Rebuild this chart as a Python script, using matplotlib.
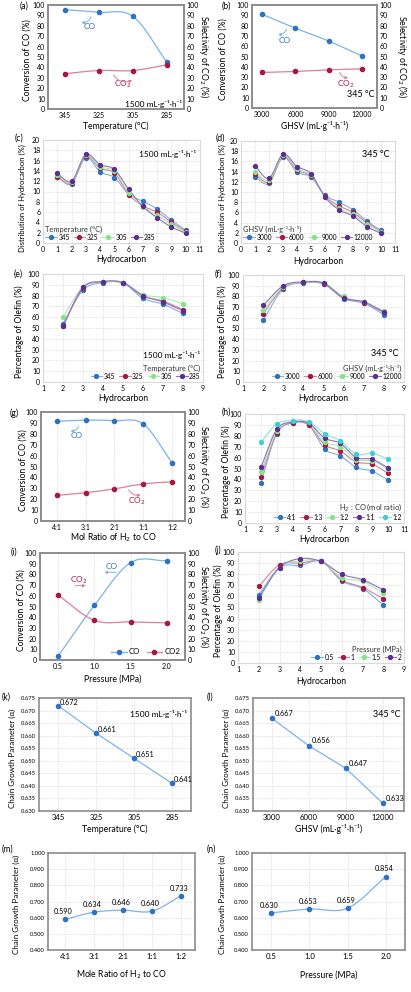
import numpy as np
import matplotlib
matplotlib.use('Agg')
import matplotlib.pyplot as plt
from matplotlib.lines import Line2D

plt.rcParams['font.family'] = ['Lato', 'DejaVu Sans']

# ---------------- data ----------------
temp_labels = ['345', '325', '305', '285']
a_co = [95.5, 93, 89, 45]
a_co2 = [34, 37, 37, 42.5]

ghsv = [3000, 6000, 9000, 12000]
b_co = [91, 77.5, 65, 50.5]
b_co2 = [34.5, 35.5, 37, 38]

carbon_10 = [1, 2, 3, 4, 5, 6, 7, 8, 9, 10]
c_345 = [12.8, 11.5, 16.6, 13.8, 12.7, 9.5, 8.1, 6.6, 4.4, 2.5]
c_325 = [12.9, 11.6, 16.8, 14.5, 13.6, 9.4, 7.2, 6.0, 4.0, 2.3]
c_305 = [13.2, 11.8, 17.0, 14.8, 14.0, 9.8, 7.0, 5.4, 3.6, 2.1]
c_285 = [13.5, 12.0, 17.2, 15.2, 14.3, 10.4, 7.1, 4.9, 3.1, 1.9]

d_3000 = [12.9, 11.7, 16.8, 13.9, 12.9, 9.4, 8.0, 6.5, 4.3, 2.5]
d_6000 = [13.5, 12.0, 17.0, 14.3, 13.1, 9.2, 7.3, 6.0, 4.0, 2.2]
d_9000 = [14.0, 12.3, 17.2, 14.6, 13.3, 9.1, 6.8, 5.6, 3.7, 2.1]
d_12000 = [15.1, 12.7, 17.4, 15.0, 13.6, 9.0, 6.5, 5.3, 3.2, 1.9]

carbon_8 = [2, 3, 4, 5, 6, 7, 8]
e_345 = [54, 85, 92, 91.5, 77.5, 72, 63.5]
e_325 = [52, 87, 92.5, 92, 79.5, 75, 67]
e_305 = [60, 88, 93, 92, 81, 78, 72.5]
e_285 = [52, 87.5, 93, 92, 80, 74, 66]

f_3000 = [57.5, 87, 92.5, 91.5, 78, 73.5, 63]
f_6000 = [64, 88, 93, 92, 79, 74, 65]
f_9000 = [67, 89, 93, 92.5, 80, 74.5, 66.5]
f_12000 = [71.5, 90, 93.5, 92.5, 78.5, 75, 65.5]

ratio_labels = ['4:1', '3:1', '2:1', '1:1', '1:2']
g_co = [91.5, 92.5, 92, 89, 53.5]
g_co2 = [23.5, 26, 29.5, 34, 36]

carbon_h = [2, 3, 4, 5, 6, 7, 8, 9, 10]
h_labels = ['4:1', '1:3', '1:2', '1:1', '1:2']
h_41 = [37, 82, 92, 90, 68, 61.5, 51, 47.5, 39.5]
h_13 = [42, 82.5, 92, 90, 72, 66, 56, 54, 45.5]
h_12 = [47, 84, 93.5, 92, 74.5, 70, 58, 57, 49.5]
h_11 = [51, 86, 92.5, 91.5, 78, 73, 60, 58.5, 50.5]
h_12b = [74, 91, 94, 93, 82, 75.5, 63, 64, 58.5]

pressure = [0.5, 1.0, 1.5, 2.0]
i_co = [3.75, 51, 91, 92.8]
i_co2 = [60.6, 37, 35.6, 34.7]

j_labels = ['0.5', '1', '1.5', '2']
j_05 = [61.5, 86, 88, 91.5, 74, 67, 52.5]
j_1 = [69, 88.5, 90, 91.5, 75, 68, 58]
j_15 = [57, 86, 92, 91.5, 77, 73.5, 63]
j_2 = [59, 86, 94, 91.5, 80, 75, 66]

k_alpha = [0.672, 0.661, 0.651, 0.641]
l_alpha = [0.667, 0.656, 0.647, 0.633]
m_alpha = [0.590, 0.634, 0.646, 0.640, 0.733]
n_alpha = [0.630, 0.653, 0.659, 0.854]

# ---------------- styles ----------------
BLUE_M, BLUE_L = '#2f72c4', '#7db3e8'
RED_M, RED_L = '#a8173f', '#de7f9c'
GREEN_M, GREEN_L = '#86e486', '#a9eca9'
PURP_M, PURP_L = '#5b2e92', '#8f72c2'
CYAN_M, CYAN_L = '#3fcfcf', '#86e3e3'
four = [(BLUE_M, BLUE_L), (RED_M, RED_L), (GREEN_M, GREEN_L), (PURP_M, PURP_L)]

W, H = 411, 992
fig = plt.figure(figsize=(W / 100, H / 100), dpi=100)

TICK = 5.0
LAB = 6.2


def ax_at(l, t, r, b):
    return fig.add_axes([l / W, 1 - b / H, (r - l) / W, (b - t) / H])


def smooth(x, y, n=16):
    x = np.asarray(x, float)
    y = np.asarray(y, float)
    if len(x) < 3:
        return x, y
    P = np.column_stack([x, y])
    E = np.vstack([2 * P[0] - P[1], P, 2 * P[-1] - P[-2]])
    t = np.linspace(0, 1, n, endpoint=False)[:, None]
    out = []
    for i in range(1, len(E) - 2):
        p0, p1, p2, p3 = E[i - 1:i + 3]
        seg = 0.5 * (2 * p1 + (-p0 + p2) * t + (2 * p0 - 5 * p1 + 4 * p2 - p3) * t ** 2
                     + (-p0 + 3 * p1 - 3 * p2 + p3) * t ** 3)
        out.append(seg)
    out.append(P[-1:])
    S = np.vstack(out)
    return S[:, 0], S[:, 1]


def series(ax, x, y, mc, lc, ms=3.0, lw=0.9, smooth_line=True):
    if smooth_line:
        xs, ys = smooth(x, y)
    else:
        xs, ys = x, y
    ax.plot(xs, ys, color=lc, lw=lw, zorder=2, solid_capstyle='round')
    ax.plot(x, y, 'o', color=mc, ms=ms, mec=mc, zorder=3)
    return Line2D([], [], color=lc, lw=lw, marker='o', mfc=mc, mec=mc, ms=ms)


def frame(ax, color='#8c8c8c', lw=1.2):
    for s in ax.spines.values():
        s.set_color(color)
        s.set_linewidth(lw)
    ax.tick_params(length=0, labelsize=TICK, pad=2)


def labels(ax, l, t, r, b, xlabel, ylabel, xl_y, yl_x, ysize=LAB, ypos=0.47):
    ax.set_xlabel(xlabel, fontsize=LAB)
    ax.set_ylabel(ylabel, fontsize=ysize)
    ax.xaxis.set_label_coords(0.5, (b - xl_y) / (b - t))
    ax.yaxis.set_label_coords((yl_x - l) / (r - l), ypos)
    ax.xaxis.label.set_va('center')
    ax.yaxis.label.set_va('center')


def panel_label(s, x, y):
    fig.text(x / W, 1 - y / H, s, fontsize=6.3, ha='left', va='center')


def arrow(ax, xy_from, xy_to, color, rad=0.0):
    ax.annotate('', xy=xy_to, xytext=xy_from,
                arrowprops=dict(arrowstyle='-|>', color=color, lw=0.7,
                                mutation_scale=4,
                                connectionstyle=f'arc3,rad={rad}'))


def grid(ax, axis='both'):
    ax.grid(True, axis=axis, color='#d9d9d9', lw=0.6, ls=(0, (1.5, 1.5)))
    ax.set_axisbelow(True)


UNIT = '1500 mL·g⁻¹·h⁻¹'
GHSV_LAB = 'GHSV (mL·g⁻¹·h⁻¹)'
NOTE = 6.0

# ---------------- (a) ----------------
L, T, R, B = 48, 5, 184, 109
ax = ax_at(L, T, R, B)
xa = np.arange(len(temp_labels))
series(ax, xa, a_co, BLUE_M, BLUE_L)
tw = ax.twinx()
series(tw, xa, a_co2, RED_M, RED_L)
for a_ in (ax, tw):
    a_.set_ylim(0, 100)
    a_.set_yticks(range(0, 101, 10))
    a_.set_xlim(-0.5, 3.5)
    frame(a_)
ax.set_xticks(xa)
ax.set_xticklabels(temp_labels)
labels(ax, L, T, R, B, 'Temperature (°C)', 'Conversion of CO (%)', 126, 27)
tw.set_ylabel('Selectivity of CO$_2$ (%)', fontsize=LAB, rotation=270, va='center')
tw.yaxis.set_label_coords((204 - L) / (R - L), 0.5)
ax.text(0.72, 79, 'CO', color=BLUE_M, fontsize=NOTE, ha='center', va='center')
arrow(ax, (0.8, 91), (0.4, 84), BLUE_L, rad=-0.5)
ax.text(1.7, 24, 'CO$_2$', color=RED_M, fontsize=NOTE, ha='center', va='center')
arrow(ax, (1.38, 35), (2.05, 29), RED_L, rad=0.5)
ax.text(3.45, 5, UNIT, fontsize=NOTE, ha='right', va='center')
panel_label('(a)', 20, 6)

# ---------------- (b) ----------------
L, T, R, B = 252, 5, 377, 108
ax = ax_at(L, T, R, B)
series(ax, ghsv, b_co, BLUE_M, BLUE_L)
tw = ax.twinx()
series(tw, ghsv, b_co2, RED_M, RED_L)
for a_ in (ax, tw):
    a_.set_ylim(0, 100)
    a_.set_yticks(range(0, 101, 10))
    a_.set_xlim(2100, 13350)
    frame(a_)
ax.set_xticks(ghsv)
labels(ax, L, T, R, B, GHSV_LAB, 'Conversion of CO (%)', 126, 223)
tw.set_ylabel('Selectivity of CO$_2$ (%)', fontsize=LAB, rotation=270, va='center')
tw.yaxis.set_label_coords((402 - L) / (R - L), 0.5)
ax.text(5000, 66, 'CO', color=BLUE_M, fontsize=NOTE, ha='center', va='center')
arrow(ax, (5300, 79), (4200, 72), BLUE_L, rad=-0.5)
ax.text(10500, 23, 'CO$_2$', color=RED_M, fontsize=NOTE, ha='center', va='center')
arrow(ax, (9900, 37), (11000, 30), RED_L, rad=0.5)
ax.text(11900, 13, '345 °C', fontsize=6.5, ha='center', va='center')
panel_label('(b)', 222, 6)


# ---------------- multi-series helpers ----------------
def multi(ax, x, ys, cols, labs, title, loc, align, ncol, bbox=None):
    hs = []
    for y, (mc, lc) in zip(ys, cols):
        hs.append(series(ax, x, y, mc, lc, ms=2.8, lw=0.8))
    leg = ax.legend(hs, labs, title=title, loc=loc, ncol=ncol, fontsize=4.8,
                    title_fontsize=5.4, frameon=False, handlelength=1.7,
                    handletextpad=0.25, columnspacing=0.6, borderaxespad=0.15,
                    labelspacing=0.15, alignment=align, borderpad=0.2)
    leg.get_title().set_color('#333333')
    return leg


DIST = 'Distribution of Hydrocarbon (%)'

# ---------------- (c) ----------------
L, T, R, B = 43, 140, 200, 243
ax = ax_at(L, T, R, B)
multi(ax, carbon_10, [c_345, c_325, c_305, c_285], four, temp_labels,
      'Temperature (°C)', 'lower left', 'left', 4)
ax.set_xlim(0, 11)
ax.set_ylim(0, 20)
ax.set_xticks(range(0, 12))
ax.set_yticks(range(0, 21, 2))
frame(ax, '#d9d9d9', 0.8)
grid(ax)
labels(ax, L, T, R, B, 'Hydrocarbon', DIST, 260, 22, ysize=5.5, ypos=0.44)
ax.text(10.7, 17.3, UNIT, fontsize=NOTE, ha='right', va='center')
panel_label('(c)', 15, 138)

# ---------------- (d) ----------------
L, T, R, B = 241, 141, 395, 243
ax = ax_at(L, T, R, B)
multi(ax, carbon_10, [d_3000, d_6000, d_9000, d_12000], four,
      [str(g) for g in ghsv], GHSV_LAB, 'lower left', 'left', 4)
ax.set_xlim(0, 11)
ax.set_ylim(0, 20)
ax.set_xticks(range(0, 12))
ax.set_yticks(range(0, 21, 2))
frame(ax, '#d9d9d9', 0.8)
grid(ax)
labels(ax, L, T, R, B, 'Hydrocarbon', DIST, 261, 222, ysize=5.5, ypos=0.44)
ax.text(10.6, 17.3, '345 °C', fontsize=6.5, ha='right', va='center')
panel_label('(d)', 216, 138)

# ---------------- (e) ----------------
L, T, R, B = 43, 274, 203, 382
ax = ax_at(L, T, R, B)
multi(ax, carbon_8, [e_345, e_325, e_305, e_285], four, temp_labels,
      'Temperature (°C)', 'lower right', 'right', 4)
ax.set_xlim(1, 9)
ax.set_ylim(0, 100)
ax.set_xticks(range(1, 10))
ax.set_yticks(range(0, 101, 10))
frame(ax, '#d9d9d9', 0.8)
grid(ax)
labels(ax, L, T, R, B, 'Hydrocarbon', 'Percentage of Olefin (%)', 399, 19)
ax.text(8.85, 25, UNIT, fontsize=NOTE, ha='right', va='center')
panel_label('(e)', 14, 274)

# ---------------- (f) ----------------
L, T, R, B = 243, 275, 404, 382
ax = ax_at(L, T, R, B)
multi(ax, carbon_8, [f_3000, f_6000, f_9000, f_12000], four,
      [str(g) for g in ghsv], GHSV_LAB, 'lower right', 'right', 4)
ax.set_xlim(1, 9)
ax.set_ylim(0, 100)
ax.set_xticks(range(1, 10))
ax.set_yticks(range(0, 101, 10))
frame(ax, '#d9d9d9', 0.8)
grid(ax)
labels(ax, L, T, R, B, 'Hydrocarbon', 'Percentage of Olefin (%)', 399, 222)
ax.text(8.75, 27, '345 °C', fontsize=6.5, ha='right', va='center')
panel_label('(f)', 215, 274)

# ---------------- (g) ----------------
L, T, R, B = 41, 412, 185, 521
ax = ax_at(L, T, R, B)
xg = np.arange(len(ratio_labels))
series(ax, xg, g_co, BLUE_M, BLUE_L)
tw = ax.twinx()
series(tw, xg, g_co2, RED_M, RED_L)
for a_ in (ax, tw):
    a_.set_ylim(0, 100)
    a_.set_yticks(range(0, 101, 10))
    a_.set_xlim(-0.55, 4.45)
    frame(a_)
ax.set_xticks(xg)
ax.set_xticklabels(ratio_labels)
grid(ax, 'x')
labels(ax, L, T, R, B, 'Mol Ratio of H$_2$ to CO', 'Conversion of CO (%)', 538, 23)
tw.set_ylabel('Selectivity of CO$_2$ (%)', fontsize=LAB, rotation=270, va='center')
tw.yaxis.set_label_coords((204 - L) / (R - L), 0.5)
ax.text(0.69, 78, 'CO', color=BLUE_M, fontsize=NOTE, ha='center', va='center')
arrow(ax, (0.8, 89), (0.38, 83.5), BLUE_L, rad=-0.5)
ax.text(2.78, 18, 'CO$_2$', color=RED_M, fontsize=NOTE, ha='center', va='center')
arrow(ax, (2.45, 31), (3.0, 25), RED_L, rad=0.5)
panel_label('(g)', 10, 413)

# ---------------- (h) ----------------
L, T, R, B = 245, 414, 404, 523
ax = ax_at(L, T, R, B)
cols5 = four + [(CYAN_M, CYAN_L)]
multi(ax, carbon_h, [h_41, h_13, h_12, h_11, h_12b], cols5, h_labels,
      'H$_2$ : CO (mol ratio)', 'lower right', 'right', 5)
ax.set_xlim(1, 11)
ax.set_ylim(0, 100)
ax.set_xticks(range(1, 12))
ax.set_yticks(range(0, 101, 10))
frame(ax, '#d9d9d9', 0.8)
grid(ax)
labels(ax, L, T, R, B, 'Hydrocarbon', 'Percentage of Olefin (%)', 539, 226)
panel_label('(h)', 222, 412)

# ---------------- (i) ----------------
L, T, R, B = 40, 553, 185, 660
ax = ax_at(L, T, R, B)
h1 = series(ax, pressure, i_co, BLUE_M, BLUE_L)
tw = ax.twinx()
h2 = series(tw, pressure, i_co2, RED_M, RED_L)
for a_ in (ax, tw):
    a_.set_ylim(0, 100)
    a_.set_yticks(range(0, 101, 10))
    a_.set_xlim(0.25, 2.25)
    frame(a_)
ax.set_xticks(pressure)
ax.set_xticklabels(['0.5', '1.0', '1.5', '2.0'])
grid(ax, 'x')
labels(ax, L, T, R, B, 'Pressure (MPa)', 'Conversion of CO (%)', 679, 21)
tw.set_ylabel('Selectivity of CO$_2$ (%)', fontsize=LAB, rotation=270, va='center')
tw.yaxis.set_label_coords((204 - L) / (R - L), 0.5)
ax.text(1.24, 87.5, 'CO', color=BLUE_M, fontsize=NOTE, ha='center', va='center')
arrow(ax, (1.34, 82), (1.1, 82), BLUE_L)
ax.text(0.79, 74.5, 'CO$_2$', color=RED_M, fontsize=NOTE, ha='center', va='center')
arrow(ax, (0.7, 69.5), (0.92, 69.5), RED_L)
tw.legend([h1, h2], ['CO', 'CO2'], loc='lower right', ncol=2, fontsize=5.6,
          frameon=False, handlelength=2.0, handletextpad=0.3, columnspacing=0.8,
          borderaxespad=0.2)
panel_label('(i)', 11, 552)

# ---------------- (j) ----------------
L, T, R, B = 238, 552, 404, 663
ax = ax_at(L, T, R, B)
multi(ax, carbon_8, [j_05, j_1, j_15, j_2], four, j_labels,
      'Pressure (MPa)', 'lower right', 'right', 4)
ax.set_xlim(1, 9)
ax.set_ylim(0, 100)
ax.set_xticks(range(1, 10))
ax.set_yticks(range(0, 101, 10))
frame(ax, '#d9d9d9', 0.8)
grid(ax)
labels(ax, L, T, R, B, 'Hydrocarbon', 'Percentage of Olefin (%)', 681, 218)
panel_label('(j)', 215, 550)


# ---------------- alpha panels ----------------
def alpha_panel(L, T, R, B, x, y, xt, xtl, xlim, ylim, yt, xlabel, yl_x, xl_y,
                smooth_line, lab_off):
    ax = ax_at(L, T, R, B)
    series(ax, x, y, BLUE_M, BLUE_L, smooth_line=smooth_line)
    for xi, yi in zip(x, y):
        ax.annotate(f'{yi:.3f}', (xi, yi), xytext=lab_off, textcoords='offset points',
                    fontsize=5.3, ha='left', va='bottom')
    ax.set_xlim(*xlim)
    ax.set_ylim(*ylim)
    ax.set_yticks(yt)
    ax.set_yticklabels([f'{v:.3f}' for v in yt])
    ax.set_xticks(xt)
    ax.set_xticklabels(xtl)
    frame(ax)
    ax.tick_params(axis='y', labelsize=4.2)
    ax.tick_params(axis='x', labelsize=5.6)
    grid(ax)
    labels(ax, L, T, R, B, xlabel, 'Chain Growth Parameter (α)', xl_y, yl_x, ysize=5.8)
    return ax


yk = np.round(np.arange(0.630, 0.6751, 0.005), 3)
xk = np.arange(len(temp_labels))
ax = alpha_panel(39, 698, 191, 811, xk, k_alpha, xk, temp_labels, (-0.5, 3.5),
                 (0.630, 0.675), yk, 'Temperature (°C)', 12, 829, False, (1, 0))
ax.text(3.4, 0.6685, UNIT, fontsize=NOTE, ha='right', va='center')
panel_label('(k)', 2, 697)

ax = alpha_panel(253, 698, 404, 811, ghsv, l_alpha, ghsv, [str(g) for g in ghsv],
                 (1500, 13700), (0.630, 0.675), yk, GHSV_LAB, 226, 829, False, (2, 1))
ax.text(13400, 0.6685, '345 °C', fontsize=6.5, ha='right', va='center')
panel_label('(l)', 207, 697)

ym = np.round(np.arange(0.4, 1.0001, 0.1), 3)
xm = np.arange(len(ratio_labels))
alpha_panel(48, 853, 195, 950, xm, m_alpha, xm, ratio_labels, (-0.6, 4.5),
            (0.4, 1.0), ym, 'Mole Ratio of H$_2$ to CO', 16, 975, True, (-8, 3))
panel_label('(m)', 2, 849)

alpha_panel(252, 853, 405, 950, pressure, n_alpha, pressure, ['0.5', '1.0', '1.5', '2.0'],
            (0.25, 2.25), (0.4, 1.0), ym, 'Pressure (MPa)', 222, 975, True, (-8, 3))
panel_label('(n)', 207, 849)

fig.savefig('out.png', dpi=100)
